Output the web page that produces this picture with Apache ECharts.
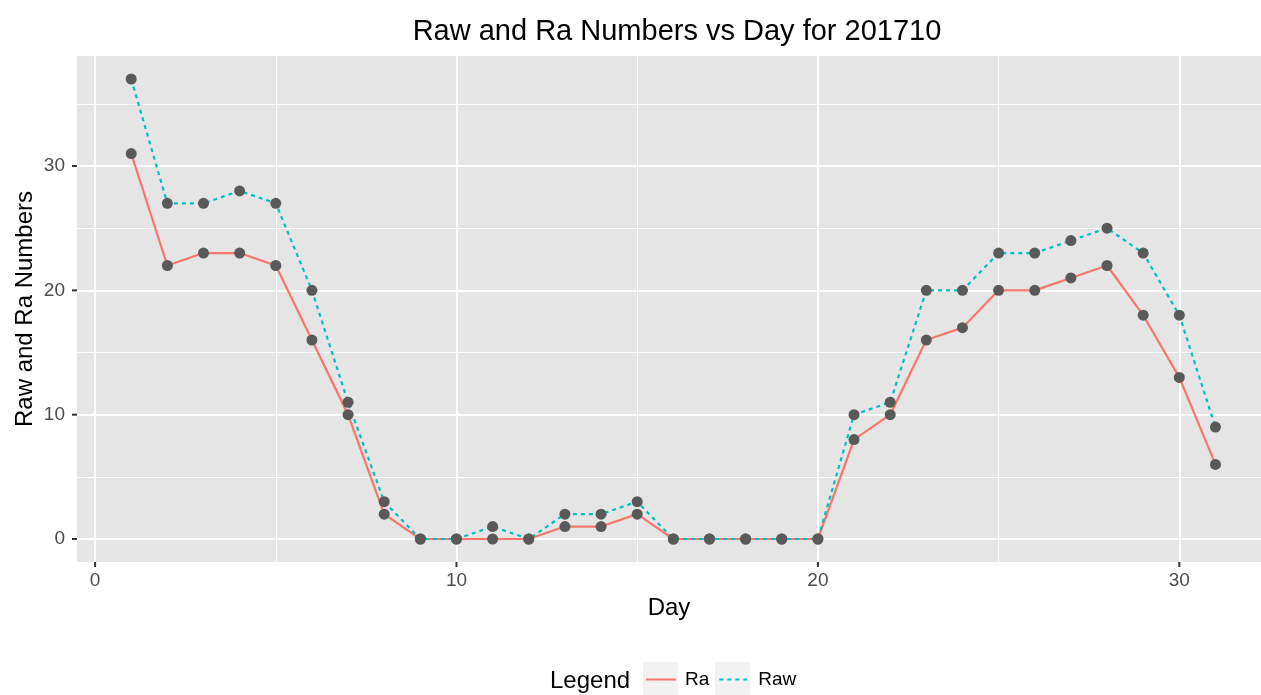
<!DOCTYPE html>
<html>
<head>
<meta charset="utf-8">
<script src="https://cdn.jsdelivr.net/npm/echarts@6/dist/echarts.min.js"></script>
<style>html,body{margin:0;padding:0;background:#fff}#c{width:1261px;height:695px}</style>
</head>
<body>
<div id="c"></div>
<script>
var days = [1,2,3,4,5,6,7,8,9,10,11,12,13,14,15,16,17,18,19,20,21,22,23,24,25,26,27,28,29,30,31];
var raValues = [31,22,23,23,22,16,10,2,0,0,0,0,1,1,2,0,0,0,0,0,8,10,16,17,20,20,21,22,18,13,6];
var rawValues = [37,27,27,28,27,20,11,3,0,0,1,0,2,2,3,0,0,0,0,0,10,11,20,20,23,23,24,25,23,18,9];
var xTicks = [0,10,20,30];
var yTicks = [0,10,20,30];
var xMinorGrid = [5,15,25];
var yMinorGrid = [5,15,25,35];

function pairs(xs, ys){ return xs.map(function(x,i){ return [x, ys[i]]; }); }

var gridMarks = []
  .concat(xMinorGrid.map(function(v){ return {xAxis: v, lineStyle:{width:1}}; }))
  .concat(yMinorGrid.map(function(v){ return {yAxis: v, lineStyle:{width:1}}; }))
  .concat(xTicks.map(function(v){ return {xAxis: v, lineStyle:{width:2}}; }))
  .concat(yTicks.map(function(v){ return {yAxis: v, lineStyle:{width:2}}; }));

var chart = echarts.init(document.getElementById('c'), null, {renderer:'canvas'});
var font = 'Liberation Sans, Arial, Helvetica, sans-serif';
var GRID = {left: 77, right: 0, top: 56, bottom: 133};
chart.setOption({
  animation: false,
  textStyle: {fontFamily: font},
  title: {
    text: 'Raw and Ra Numbers vs Day for 201710',
    left: 672, top: 12, textAlign: 'center',
    textStyle: {fontSize: 29, fontWeight: 'normal', color: '#000', fontFamily: font}
  },
  grid: {left: GRID.left, right: GRID.right, top: GRID.top, bottom: GRID.bottom, show: true, backgroundColor: '#E5E5E5', borderWidth: 0},
  xAxis: {
    type: 'value', min: -0.5, max: 32.26,
    name: 'Day', nameLocation: 'middle', nameGap: 34,
    nameTextStyle: {fontSize: 24, color: '#000', fontFamily: font},
    axisLine: {show: false},
    splitLine: {show: false},
    axisTick: {show: false},
    axisLabel: {fontSize: 19, color: '#4D4D4D', margin: 9, customValues: xTicks, fontFamily: font}
  },
  yAxis: {
    type: 'value', min: -1.85, max: 38.85,
    name: 'Raw and Ra Numbers', nameLocation: 'middle', nameGap: 40, nameMoveOverlap: false,
    nameTextStyle: {fontSize: 24, color: '#000', fontFamily: font},
    axisLine: {show: false},
    splitLine: {show: false},
    axisTick: {show: false},
    axisLabel: {fontSize: 19, color: '#4D4D4D', margin: 12, customValues: yTicks, fontFamily: font}
  },
  legend: {
    data: ['Ra', 'Raw'],
    left: 645, top: 670, padding: 0,
    itemWidth: 30, itemHeight: 14, itemGap: 9,
    itemStyle: {opacity: 0},
    textStyle: {fontSize: 19, color: '#000', fontFamily: font, padding: [0,0,0,4]},
    selectedMode: false
  },
  graphic: [
    {id: 'legTitle', type: 'text', left: 550, top: 669, z: 100, style: {text: 'Legend', fontSize: 24, fill: '#000', fontFamily: font}},
    {id: 'key1', type: 'rect', shape: {x: 643, y: 662, width: 35, height: 33}, style: {fill: '#F2F2F2'}, z: -1},
    {id: 'key2', type: 'rect', shape: {x: 715, y: 662, width: 35, height: 33}, style: {fill: '#F2F2F2'}, z: -1}
  ],
  series: [
    {
      name: 'grid', type: 'line', data: [], z: 1, silent: true,
      markLine: {silent: true, z: 1, symbol: 'none', label: {show: false}, animation: false,
        lineStyle: {color: '#FFFFFF', type: 'solid'}, data: gridMarks}
    },
    {
      name: 'Ra', type: 'line', data: pairs(days, raValues), z: 2,
      symbol: 'none', color: '#F8766D',
      lineStyle: {color: '#F8766D', width: 2.2, type: 'solid'}
    },
    {
      name: 'Raw', type: 'line', data: pairs(days, rawValues), z: 3,
      symbol: 'none', color: '#00BFC4',
      lineStyle: {color: '#00BFC4', width: 2.2, type: [4, 4]}
    },
    {
      name: 'RaPts', type: 'scatter', data: pairs(days, raValues), z: 4,
      symbolSize: 11, itemStyle: {color: '#595959', opacity: 1}
    },
    {
      name: 'RawPts', type: 'scatter', data: pairs(days, rawValues), z: 4,
      symbolSize: 11, itemStyle: {color: '#595959', opacity: 1}
    }
  ]
});

// axis ticks placed through the chart's own scales
var panelBottom = 695 - GRID.bottom;
var tickEls = [];
xTicks.forEach(function(v, i){
  var px = chart.convertToPixel({xAxisIndex: 0}, v);
  tickEls.push({id: 'xt' + i, type: 'line', z: 50, shape: {x1: px, y1: panelBottom, x2: px, y2: panelBottom + 5}, style: {stroke: '#333', lineWidth: 2}});
});
yTicks.forEach(function(v, i){
  var py = chart.convertToPixel({yAxisIndex: 0}, v);
  tickEls.push({id: 'yt' + i, type: 'line', z: 50, shape: {x1: GRID.left - 5, y1: py, x2: GRID.left, y2: py}, style: {stroke: '#333', lineWidth: 2}});
});
chart.setOption({graphic: tickEls});
</script>
</body>
</html>
